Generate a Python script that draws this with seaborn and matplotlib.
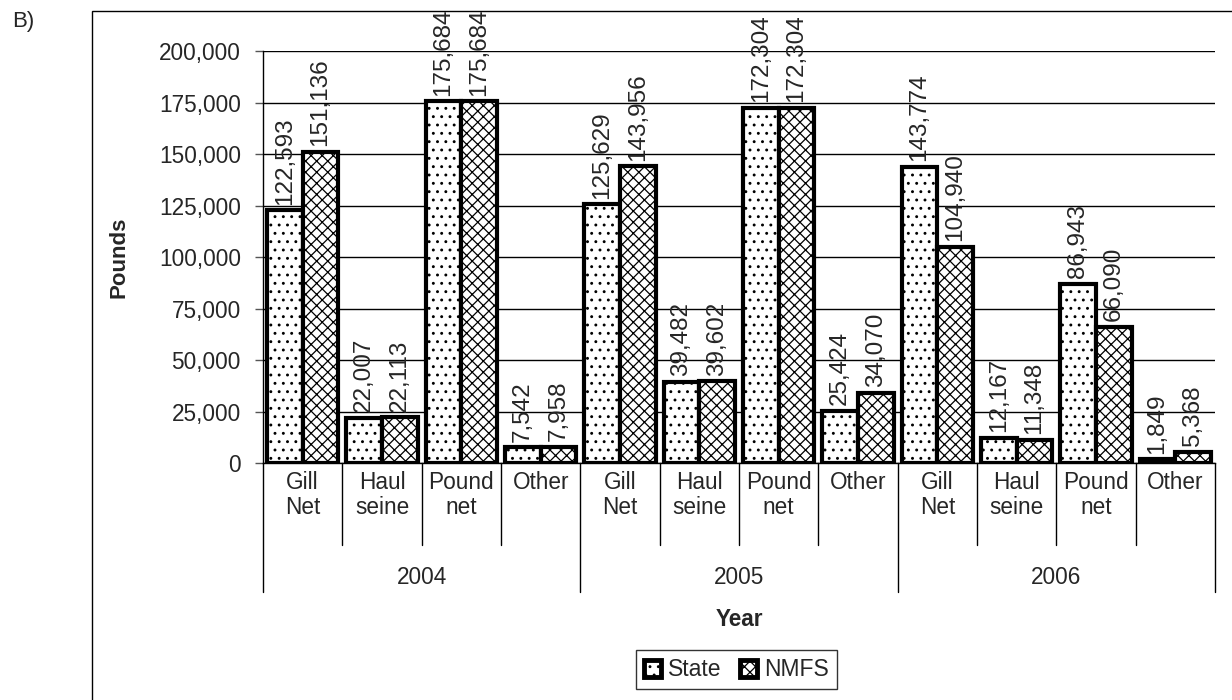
import numpy as np
import pandas as pd
import seaborn as sns
import matplotlib.pyplot as plt
from matplotlib.patches import Patch, Rectangle
from matplotlib.lines import Line2D
from matplotlib.ticker import FuncFormatter, MultipleLocator

years = ["2004", "2005", "2006"]
gears = ["Gill\nNet", "Haul\nseine", "Pound\nnet", "Other"]
series = ["State", "NMFS"]
state = [122593, 22007, 175684, 7542,
         125629, 39482, 172304, 25424,
         143774, 12167, 86943, 1849]
nmfs = [151136, 22113, 175684, 7958,
        143956, 39602, 172304, 34070,
        104940, 11348, 66090, 5368]

keys = [f"{y}|{g}" for y in years for g in gears]
df = pd.DataFrame({
    "key": keys * 2,
    "Source": ["State"] * len(keys) + ["NMFS"] * len(keys),
    "Pounds": state + nmfs,
})

sns.set_style("white")
plt.rcParams["font.family"] = ["Liberation Sans", "DejaVu Sans"]
plt.rcParams["hatch.linewidth"] = 0.9

fig = plt.figure(figsize=(12.32, 7), dpi=100)
ax = fig.add_axes([263 / 1232, 1 - 463 / 700, (1215 - 263) / 1232, 412 / 700])

sns.barplot(data=df, x="key", y="Pounds", hue="Source", order=keys,
            hue_order=series, palette=["white", "white"], width=0.9,
            edgecolor="black", linewidth=3, saturation=1, legend=False, ax=ax)

hatches = ["..", "xxx"]
for cont, h, vals in zip(ax.containers, hatches, [state, nmfs]):
    for bar in cont:
        bar.set_hatch(h)
    ax.bar_label(cont, labels=[f"{v:,}" for v in vals], rotation=90,
                 padding=4, fontsize=17.5)

ax.set_xlim(-0.5, len(keys) - 0.5)
ax.set_ylim(0, 200000)
ax.yaxis.set_major_locator(MultipleLocator(25000))
ax.yaxis.set_major_formatter(FuncFormatter(lambda v, p: f"{v:,.0f}"))
ax.tick_params(axis="y", labelsize=16.3, left=True, length=6, width=1,
               color="#555555", pad=10)
ax.set_xticks([])
ax.set_xlabel("")
ax.grid(axis="y", color="black", linewidth=1)
ax.set_axisbelow(True)
for s in ["top", "right"]:
    ax.spines[s].set_visible(False)
ax.spines["left"].set_color("black")
ax.spines["bottom"].set_color("black")
ax.spines["left"].set_linewidth(1)
ax.spines["bottom"].set_linewidth(1)

ax.set_ylabel("Pounds", fontsize=16, fontweight="bold")
ax.yaxis.set_label_coords(-0.14, 0.5)

# multi-level category axis
tr = ax.get_xaxis_transform()
for i, g in enumerate(gears * len(years)):
    ax.text(i, -0.019, g, transform=tr, ha="center", va="top",
            fontsize=16.3, linespacing=1.1)
for j, y in enumerate(years):
    ax.text(j * 4 + 1.5, -0.278, y, transform=tr, ha="center", va="center",
            fontsize=16.3)
for i in range(len(keys) + 1):
    xpos = i - 0.5
    bottom = -0.314 if i % 4 == 0 else -0.199
    ax.add_line(Line2D([xpos, xpos], [0, bottom], transform=tr,
                       color="black", linewidth=1, clip_on=False))

ax.text(0.5, -0.38, "Year", transform=ax.transAxes, ha="center",
        va="center", fontsize=16.3, fontweight="bold")

handles = [Patch(facecolor="white", edgecolor="black", hatch=h, linewidth=3.5,
                 label=s) for h, s in zip(hatches, series)]
leg = ax.legend(handles=handles, loc="center", bbox_to_anchor=(0.497, -0.502),
                ncol=2, frameon=True, fontsize=16.5, handlelength=0.75,
                handleheight=0.75, handletextpad=0.3, columnspacing=0.8,
                borderpad=0.35, fancybox=False, borderaxespad=0)
leg.get_frame().set_edgecolor("black")
leg.get_frame().set_linewidth(1)

fig.text(12 / 1232, 1 - 22 / 700, "B)", fontsize=16, va="center")
fig.patches.append(Rectangle((92 / 1232, -0.05), 1.0, 1.05 - 11 / 700,
                             transform=fig.transFigure, fill=False,
                             edgecolor="black", linewidth=1))

fig.savefig("out.png", dpi=100, facecolor="white")
